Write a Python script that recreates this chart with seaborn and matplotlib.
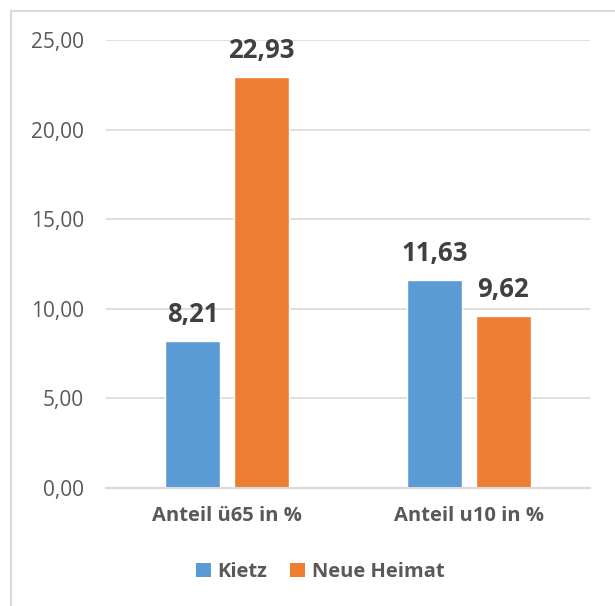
import matplotlib
matplotlib.use("Agg")
import matplotlib.pyplot as plt
from matplotlib.lines import Line2D
from matplotlib.patches import Patch
import seaborn as sns
import pandas as pd

categories = ["Anteil ü65 in %", "Anteil u10 in %"]
series = ["Kietz", "Neue Heimat"]
kietz = [8.21, 11.63]
neue_heimat = [22.93, 9.62]
yticks = [0, 5, 10, 15, 20, 25]

colors = {"Kietz": "#5B9BD5", "Neue Heimat": "#ED7D31"}

df = pd.DataFrame({
    "Kategorie": categories * 2,
    "Gruppe": [series[0]] * 2 + [series[1]] * 2,
    "Wert": kietz + neue_heimat,
})

sns.set_theme(style="white")
plt.rcParams["font.family"] = ["Open Sans", "DejaVu Sans"]

W, H = 615, 606
fig = plt.figure(figsize=(W / 100, H / 100), dpi=100)
ax = fig.add_axes([106 / W, 1 - 488 / H, (590 - 106) / W, (488 - 40) / H])

sns.barplot(data=df, x="Kategorie", y="Wert", hue="Gruppe", order=categories,
            hue_order=series, palette=colors, width=0.57, gap=0.2,
            saturation=1, ax=ax, legend=False)

ax.set_ylim(0, 25)
ax.set_xlim(-0.5, 1.5)
ax.set_yticks(yticks)
ax.set_yticklabels([f"{v:.2f}".replace(".", ",") for v in yticks])
ax.yaxis.grid(True, color="#D9D9D9", linewidth=1.2)
ax.set_axisbelow(True)
for side in ["top", "right", "left"]:
    ax.spines[side].set_visible(False)
ax.spines["bottom"].set_color("#D9D9D9")
ax.spines["bottom"].set_linewidth(1.5)
ax.tick_params(axis="y", length=0, pad=16, labelsize=15, labelcolor="#595959")
ax.tick_params(axis="x", length=0, pad=13, labelsize=14.5, labelcolor="#595959")
for lbl in ax.get_xticklabels():
    lbl.set_fontweight("bold")
ax.set_xlabel("")
ax.set_ylabel("")

# value labels above each bar
for container in ax.containers:
    for bar in container:
        val = bar.get_height()
        ax.annotate(f"{val:.2f}".replace(".", ","),
                    (bar.get_x() + bar.get_width() / 2, val),
                    xytext=(0, 13.5), textcoords="offset points",
                    ha="center", va="baseline", fontsize=18.5,
                    fontweight="bold", color="#404040")

handles = [Patch(facecolor=colors[s], edgecolor="none") for s in series]
leg = fig.legend(handles, series, loc="center", bbox_to_anchor=(320 / W, 1 - 572 / H),
                 ncol=2, frameon=False, handlelength=0.75, handleheight=0.75,
                 handletextpad=0.35, columnspacing=1.1,
                 prop={"size": 14.5, "weight": "bold"})
for t in leg.get_texts():
    t.set_color("#595959")

# chart area border (top and left edges)
fig.add_artist(Line2D([11 / W, 1], [1 - 10.5 / H, 1 - 10.5 / H], color="#D9D9D9",
                      linewidth=1.5, transform=fig.transFigure))
fig.add_artist(Line2D([11 / W, 11 / W], [0, 1 - 10.5 / H], color="#D9D9D9",
                      linewidth=1.5, transform=fig.transFigure))

fig.savefig("out.png", dpi=100)
